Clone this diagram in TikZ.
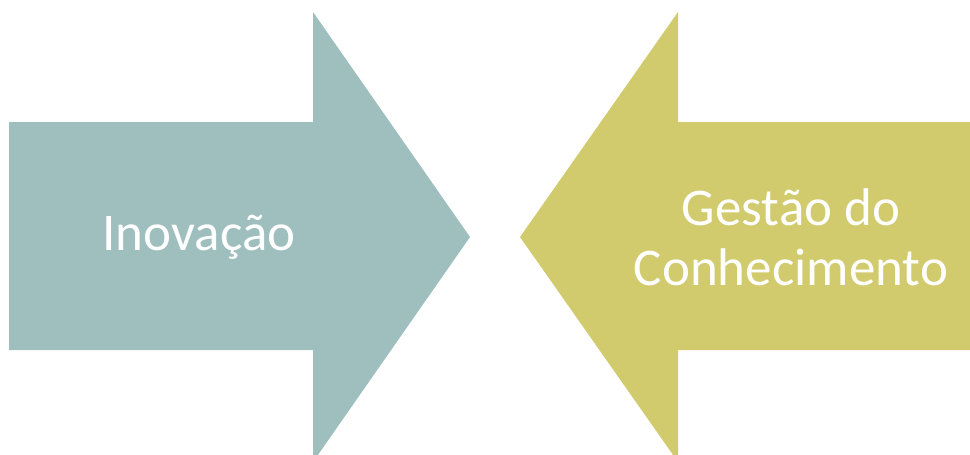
\documentclass[tikz,border=0pt]{standalone}
\usepackage{fontspec}
\setmainfont{Carlito}
\usepackage{xcolor}
\usepackage{tikz}
\usetikzlibrary{calc}
\definecolor{inovteal}{RGB}{158,191,190}
\definecolor{gestolive}{RGB}{209,203,109}

\begin{document}
\begin{tikzpicture} [x=1pt, y=-1pt, label/.style={text=white, font=\fontsize{53}{60}\selectfont, align=center, inner sep=0}]
\useasboundingbox (0,0) rectangle (970,455);
\fill[inovteal] (9,122)--(313,122)--(313,12)--(470,237)--(313,462)--(313,350)--(9,350)--cycle;
\fill[gestolive] (975,122)--(678,122)--(678,12)--(520,237)--(678,462)--(678,350)--(975,350)--cycle;
\node[label] (inov) at (199,237) {Inovação};
\node[label] (gest) at (791,237) {Gestão do\\Conhecimento};
\end{tikzpicture}
\end{document}
